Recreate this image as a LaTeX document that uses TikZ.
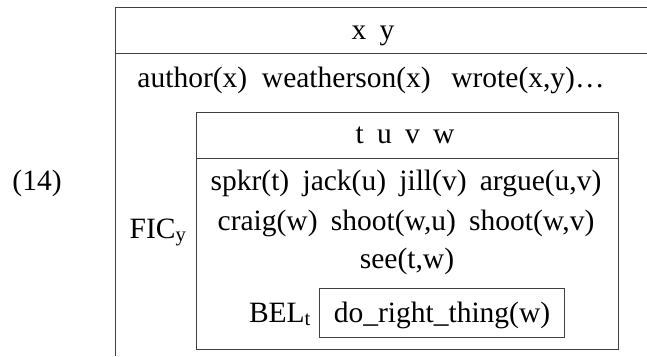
\documentclass[tikz,border=0pt]{standalone}
\usepackage{fontspec}
\setmainfont{Liberation Serif}
\begin{document}
\begin{tikzpicture}[x=1pt,y=-1pt,
  rule/.style={draw=black!75,line width=1pt},
  txt/.style={anchor=base,inner sep=0pt,font=\fontsize{29.5}{35}\selectfont}]
\useasboundingbox (0,0) rectangle (647,356);
% outer box (clipped at right and bottom)
\draw[rule] (647,7) -- (115,7) -- (115,356);
\draw[rule] (115,53) -- (647,53);
% inner box
\draw[rule] (196,112) rectangle (618,349);
\draw[rule] (196,158) -- (618,158);
% BEL box
\draw[rule] (319,288) rectangle (564,337);
% texts
\node[txt] (num) at (37,190) {(14)};
\node[txt] (xy) at (373,39) {x\hspace{0.45em}y};
\node[txt] (cond1) at (371,87) {author(x)\hspace{0.5em}weatherson(x)\hspace{0.7em}wrote(x,y)…};
\node[txt] (fic) at (158,238) {FIC\textsubscript{y}};
\node[txt] (tuvw) at (405,143) {t\hspace{0.45em}u\hspace{0.45em}v\hspace{0.45em}w};
\node[txt] (l1) at (406,190) {spkr(t)\hspace{0.45em}jack(u)\hspace{0.45em}jill(v)\hspace{0.45em}argue(u,v)};
\node[txt] (l2) at (406,230) {craig(w)\hspace{0.45em}shoot(w,u)\hspace{0.45em}shoot(w,v)};
\node[txt] (l3) at (407,268) {see(t,w)};
\node[txt] (bel) at (280,322) {BEL\textsubscript{t}};
\node[txt] (drt) at (442,322) {do\_right\_thing(w)};
\end{tikzpicture}
\end{document}
